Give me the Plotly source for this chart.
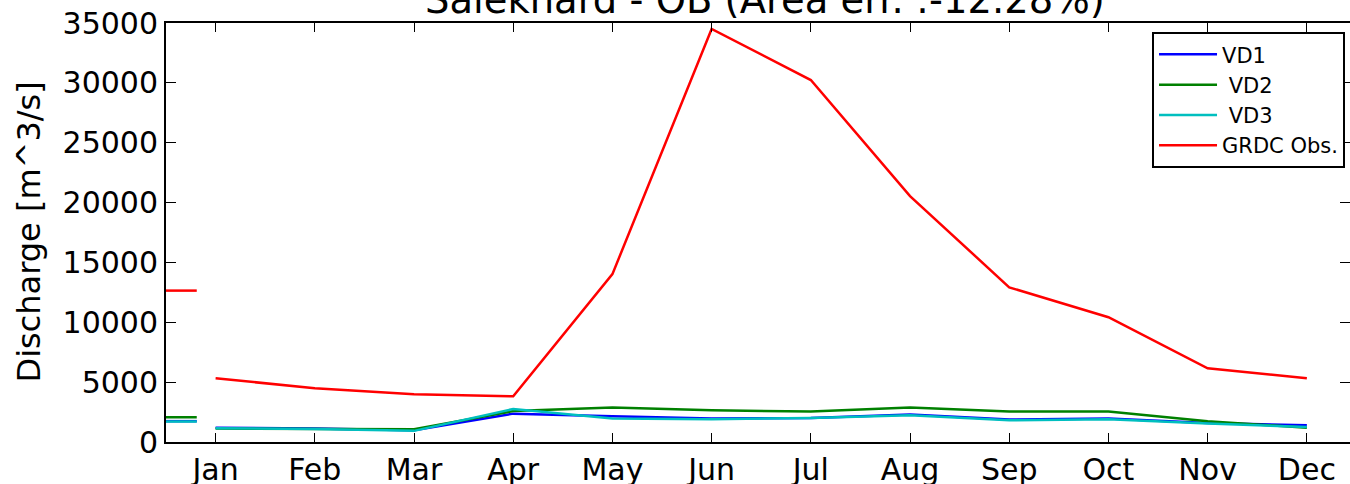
import plotly.graph_objects as go

months = ["Jan", "Feb", "Mar", "Apr", "May", "Jun", "Jul", "Aug", "Sep", "Oct", "Nov", "Dec"]
month_pos = list(range(1, 13))

vd1 = [1200, 1130, 980, 2370, 2150, 1955, 2010, 2290, 1870, 1955, 1590, 1400]
vd2 = [1120, 1090, 1060, 2580, 2875, 2650, 2540, 2875, 2540, 2540, 1730, 1200]
vd3 = [1150, 1080, 930, 2760, 1955, 1900, 2010, 2230, 1810, 1900, 1540, 1250]
grdc = [5325, 4490, 3990, 3820, 14020, 34500, 30235, 20540, 12920, 10420, 6160, 5330]

names = ["VD1", "\u00a0VD2", "\u00a0VD3", "GRDC Obs."]
colors = ["#0000ff", "#008000", "#00bfbf", "#ff0000"]
series = [vd1, vd2, vd3, grdc]
mean_seg_x = [0.5, 0.81]

yticks = [0, 5000, 10000, 15000, 20000, 25000, 30000, 35000]
title = "Salekhard - OB (Area err. :-12.28%)"

FONT = "DejaVu Sans"
fig = go.Figure()

# annual mean segments
for s, c in zip(series, colors):
    m = sum(s) / len(s)
    fig.add_trace(go.Scatter(x=mean_seg_x, y=[m, m], mode="lines",
                             line=dict(color=c, width=2.5), showlegend=False,
                             hoverinfo="skip"))

for s, c, n in zip(series, colors, names):
    fig.add_trace(go.Scatter(x=month_pos, y=s, mode="lines", name=n,
                             line=dict(color=c, width=2.5)))

# invisible trace to enable right-side mirrored ticks
fig.add_trace(go.Scatter(x=[1], y=[0], yaxis="y2", mode="lines",
                         line=dict(color="rgba(0,0,0,0)"), showlegend=False,
                         hoverinfo="skip"))

fig.update_layout(
    width=1350, height=484,
    margin=dict(l=166, r=0, t=23, b=42, autoexpand=False),
    paper_bgcolor="white", plot_bgcolor="white",
    font=dict(family=FONT, color="black", size=30),
    xaxis=dict(range=[0.5, 12.435], tickvals=month_pos, ticktext=months,
               showgrid=False, zeroline=False, showline=True, linewidth=2,
               linecolor="black", mirror="ticks", ticks="inside", ticklen=9,
               tickwidth=1, tickcolor="black", tickfont=dict(size=30),
               automargin=False),
    yaxis=dict(range=[0, 35000], tickvals=yticks,
               ticktext=[str(v) for v in yticks],
               showgrid=False, zeroline=False, showline=True, linewidth=2,
               linecolor="black", ticks="inside", ticklen=10, tickwidth=1,
               tickcolor="black", tickfont=dict(size=30), automargin=False),
    yaxis2=dict(range=[0, 35000], overlaying="y", side="right", tickvals=yticks,
                showticklabels=False, showgrid=False, zeroline=False,
                showline=False, ticks="inside", ticklen=10, tickwidth=1,
                tickcolor="black", automargin=False),
    legend=dict(x=0.9958, xanchor="right", y=0.978, yanchor="top",
                bgcolor="white", bordercolor="black", borderwidth=2,
                itemwidth=58, tracegroupgap=0,
                font=dict(size=21, family=FONT)),
    showlegend=True,
)

fig.add_annotation(text=title, xref="paper", yref="paper",
                   x=(765 - 166) / 1184, y=(442 - 24) / 419,
                   xanchor="center", yanchor="bottom", showarrow=False,
                   font=dict(size=38.5, family=FONT, color="black"))
fig.add_annotation(text="Discharge [m^3/s]", xref="paper", yref="paper",
                   x=(28 - 166) / 1184, y=0.5, xanchor="center", yanchor="middle",
                   textangle=-90, showarrow=False,
                   font=dict(size=32, family=FONT, color="black"))

fig.write_html("out.html", config={"displayModeBar": False},
               post_script="document.body.style.margin='0';document.body.style.overflow='hidden';")
